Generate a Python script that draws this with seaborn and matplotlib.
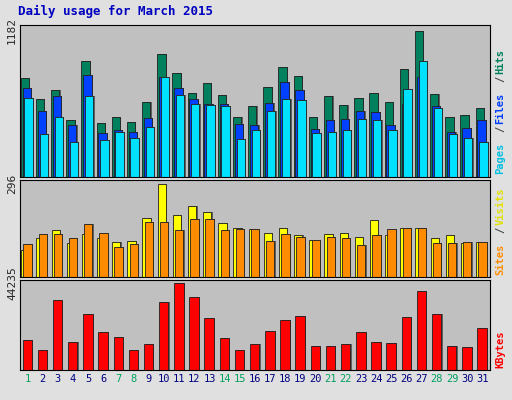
import matplotlib
matplotlib.use("Agg")
import matplotlib.pyplot as plt
import seaborn as sns
import numpy as np

days = list(range(1, 32))
hits = [799,628,701,457,937,440,489,448,603,995,840,677,758,660,489,571,726,889,815,489,652,579,636,677,603,872,1182,668,489,505,562]
files = [717,530,652,424,823,359,383,367,481,807,717,628,587,587,432,424,595,766,701,391,465,473,530,522,424,587,807,571,367,399,465]
pages = [636,351,489,285,652,302,367,318,408,807,660,587,579,571,310,383,530,628,620,359,367,383,473,457,383,709,938,562,351,318,285]
visits = [86,125,148,109,135,125,112,115,187,296,197,224,207,171,155,151,141,155,132,118,135,141,128,181,132,155,155,125,132,109,112]
sites = [105,138,135,125,168,141,95,105,174,174,148,184,184,148,151,151,115,138,128,118,128,125,102,132,151,155,155,109,109,112,112]
kbytes = [15457,10127,35711,14391,28782,19188,17056,10127,13325,34645,44235,37310,26650,16523,10127,13325,19721,25584,27716,12259,12259,13325,19188,14391,13858,27183,40508,28782,12259,11726,21320]
weekends = [1,7,8,14,15,21,22,28,29]

sns.set_theme(style="white")
plt.rcParams['font.family'] = ['DejaVu Sans Mono', 'DejaVu Sans']

fig = plt.figure(figsize=(5.12, 4.0), dpi=100)
fig.patch.set_facecolor('#E0E0E0')
fig.text(0.035, 0.962, "Daily usage for March 2015", color='#0000C0', fontsize=9, fontweight='bold')

x = np.array(days)
def bars(ax, vals, off, w, color):
    # shadow then bar
    ax.bar(x + off + 0.08, vals, width=w, color='#606060', linewidth=0, align='edge')
    ax.bar(x + off, vals, width=w, color=color, edgecolor='#202020', linewidth=0.6, align='edge')

def style(ax, top, lbls):
    ax.set_facecolor('#C0C0C0')
    ax.set_xlim(0.5, 31.5)
    ax.set_ylim(0, top * 1.04)
    ax.set_yticks([top])
    ax.set_yticklabels([str(top)], rotation=90, va='center', fontsize=8)
    ax.tick_params(axis='y', length=0, pad=2)
    ax.set_xticks([])
    for s in ax.spines.values():
        s.set_color('#000000'); s.set_linewidth(0.8)
    # right label
    y = 0.02
    for i, (t, c) in enumerate(lbls):
        txt = ax.text(1.012, y, t, color=c, rotation=90, transform=ax.transAxes,
                      fontsize=7.5, fontweight='bold', va='bottom', ha='left')
        y += len(t) * 0.055 * (0.38 / ax.get_position().height)

ax1 = fig.add_axes([0.039, 0.5575, 0.918, 0.38])
bars(ax1, hits, -0.45, 0.55, '#00805C')
bars(ax1, files, -0.33, 0.55, '#0040FF')
bars(ax1, pages, -0.21, 0.55, '#00E0FF')
style(ax1, 1182, [("Pages", '#00C0E0'), ("/", '#404040'), ("Files", '#0040FF'), ("/", '#404040'), ("Hits", '#00805C')])

ax2 = fig.add_axes([0.039, 0.3075, 0.918, 0.2425])
bars(ax2, visits, -0.42, 0.55, '#FFFF00')
bars(ax2, sites, -0.27, 0.55, '#FF8C00')
style(ax2, 296, [("Sites", '#FF8C00'), ("/", '#404040'), ("Visits", '#E0E000')])

ax3 = fig.add_axes([0.039, 0.075, 0.918, 0.225])
bars(ax3, kbytes, -0.33, 0.62, '#FF0000')
style(ax3, 44235, [("KBytes", '#FF0000')])
ax3.set_xticks(days)
ax3.set_xticklabels([str(d) for d in days], fontsize=7.5)
ax3.tick_params(axis='x', length=0, pad=3)
for lbl, d in zip(ax3.get_xticklabels(), days):
    lbl.set_color('#00A060' if d in weekends else '#000080')

fig.savefig("out.png", dpi=100, facecolor=fig.get_facecolor())
